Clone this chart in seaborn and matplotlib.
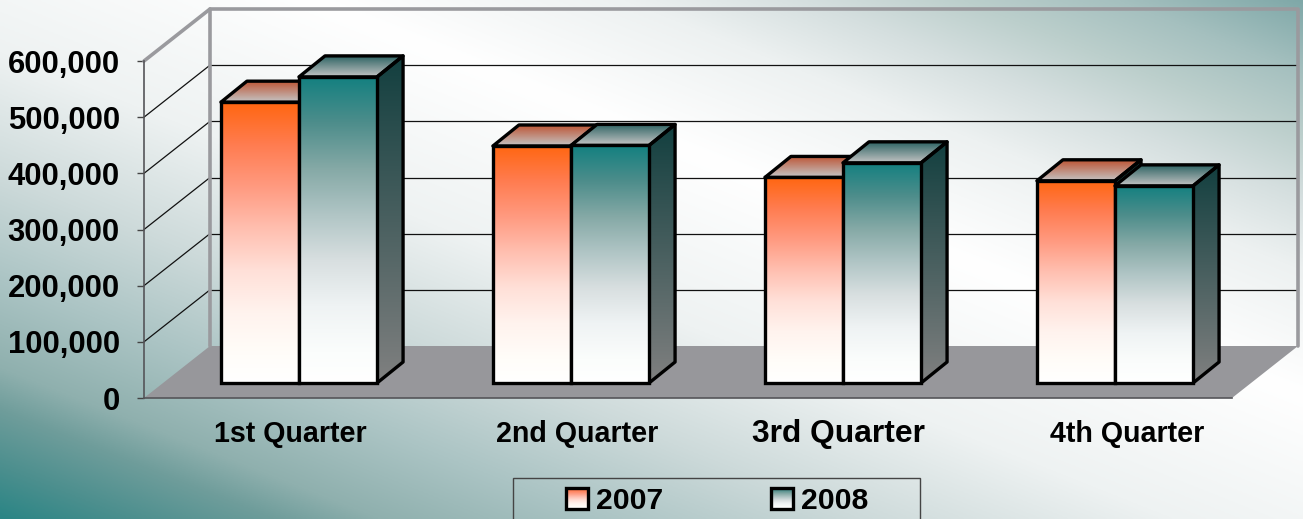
import numpy as np
import pandas as pd
import matplotlib
matplotlib.use("Agg")
import matplotlib.pyplot as plt
from matplotlib.colors import to_rgb
from matplotlib.patches import Polygon, Patch, Rectangle
from matplotlib.transforms import Affine2D, IdentityTransform
import seaborn as sns

quarters = ["1st Quarter", "2nd Quarter", "3rd Quarter", "4th Quarter"]
sales_2007 = [500000, 422000, 366000, 360000]
sales_2008 = [545000, 423000, 392000, 351000]
years = ["2007", "2008"]
y_ticks = [0, 100000, 200000, 300000, 400000, 500000, 600000]

W, H = 1303, 519
BAR_SHIFT = (19, 15)
BAR_DEPTH = (26, 21)
WALL_SHIFT = (66, 52)
label_sizes = [20.6, 20.6, 22.9, 20.6]
label_dx = [10, 25, 14, 31]

sns.set_theme(style="white")
plt.rcParams["font.family"] = ["Liberation Sans", "DejaVu Sans"]
plt.rcParams["font.weight"] = "bold"
plt.rcParams["text.color"] = "black"
plt.rcParams["ytick.labelcolor"] = "black"

df = pd.DataFrame({
    "quarter": quarters * 2,
    "sales": sales_2007 + sales_2008,
    "year": [years[0]] * 4 + [years[1]] * 4,
})

fig = plt.figure(figsize=(W / 100, H / 100), dpi=100)

# page background
bg_ax = fig.add_axes([0, 0, 1, 1], zorder=-1)
bg_ax.axis("off")
u, v = np.meshgrid(np.linspace(0, 1, 652), np.linspace(0, 1, 260))
s = (u + (1 - v)) / 2
stops = [0, .05, .105, .145, .23, .33, .45, .62, .74, .81, .87, .93, 1]
cols = ["#2a8585", "#4c8f8e", "#6f9d9b", "#8fb0ae", "#abc4c4", "#cddada", "#eef2f2",
        "#ffffff", "#edf1f1", "#d5dfdf", "#bccfcc", "#a5c0bf", "#7fa8a8"]
rgb = np.array([to_rgb(c) for c in cols])
bg = np.dstack([np.interp(s, stops, rgb[:, i]) for i in range(3)])
bg_ax.imshow(bg, aspect="auto", extent=(0, 1, 0, 1), origin="upper")

ax = fig.add_axes([144 / W, (H - 398) / H, 1088 / W, 337 / H])
ax.patch.set_visible(False)
sns.barplot(data=df, x="quarter", y="sales", hue="year", order=quarters,
            palette=["#ff6611", "#137f7f"], width=0.574, gap=0, saturation=1,
            legend=False, ax=ax)
ax.set_xlim(-0.5, 3.5)
ax.set_ylim(0, 600000)
ax.set_xlabel("")
ax.set_ylabel("")
ax.set_yticks(y_ticks)
ax.set_yticklabels([f"{t:,}" for t in y_ticks])
ax.set_xticks(range(4))
ax.set_xticklabels([""] * 4)
ax.tick_params(axis="y", length=5, width=1, color="#444444", pad=12.4, labelsize=22.3,
               left=True, labelcolor="black")
ax.tick_params(axis="x", length=0)
for name in ("top", "right"):
    ax.spines[name].set_visible(False)
for name in ("left", "bottom"):
    ax.spines[name].set_color("#555559")
    ax.spines[name].set_linewidth(1.2)

wall_tr = ax.transData + Affine2D().translate(*WALL_SHIFT)
bar_tr = ax.transData + Affine2D().translate(*BAR_SHIFT)


def to_px(x, y, shift=(0, 0)):
    p = ax.transData.transform((x, y))
    return p[0] + shift[0], p[1] + shift[1]


def gradient(pts, positions, colours, z):
    pts = np.asarray(pts)
    x0, y0 = pts.min(axis=0)
    x1, y1 = pts.max(axis=0)
    cs = np.array([to_rgb(c) for c in colours])
    t = np.linspace(0, 1, 256)
    c = np.stack([np.interp(t, positions, cs[:, i]) for i in range(3)], axis=1)[:, None, :]
    im = ax.imshow(c, aspect="auto", extent=(x0, x1, y0, y1), origin="upper",
                   transform=IdentityTransform(), zorder=z, interpolation="bilinear")
    im.set_clip_box(fig.bbox)
    im.set_clip_path(Polygon(pts, closed=True, transform=IdentityTransform()))
    ax.set_xlim(-0.5, 3.5)
    ax.set_ylim(0, 600000)


# floor
f0 = to_px(-0.5, 0)
f1 = to_px(3.5, 0)
ax.add_patch(Polygon([f0, f1, to_px(3.5, 0, WALL_SHIFT), to_px(-0.5, 0, WALL_SHIFT)],
                     closed=True, transform=IdentityTransform(), fc="#97979b", ec="none",
                     clip_on=False, zorder=1))

# walls and gridlines
for t in y_ticks[1:-1]:
    ax.plot([-0.5, 3.5], [t, t], color="#111111", lw=0.9, transform=wall_tr, clip_on=False, zorder=1.2)
    a, b = to_px(-0.5, t), to_px(-0.5, t, WALL_SHIFT)
    ax.plot([a[0], b[0]], [a[1], b[1]], color="#111111", lw=0.9,
            transform=IdentityTransform(), clip_on=False, zorder=1.2)
wall_kw = dict(color="#9a9a9e", lw=2.6, clip_on=False, zorder=1.3, solid_capstyle="round")
ymax = y_ticks[-1]
ax.plot([-0.5, -0.5, 3.5, 3.5], [0, ymax, ymax, 0], transform=wall_tr, **wall_kw)
a, b = to_px(-0.5, ymax), to_px(-0.5, ymax, WALL_SHIFT)
ax.plot([a[0], b[0]], [a[1], b[1]], transform=IdentityTransform(), **wall_kw)

# bars: seaborn's bars are the front faces; side and top faces follow from them
fade = [0, .15, .3, .45, .6, .75, .9, 1]
front_cols = [
    ["#ff6611", "#ff7c50", "#ff9a80", "#ffbfb0", "#ffe0d8", "#fff3ee", "#fffdf9", "#ffffff"],
    ["#138080", "#4d8d8b", "#85a9a6", "#b0c5c5", "#d8dfe0", "#eff3f4", "#fbfdfc", "#ffffff"],
]
top_cols = ["#bd5535", "#2f6464"]
side_cols = ["#123f3f", "#808080"]
top_front = "#c4c4c4"
EDGE = 2.4
n_q = len(quarters)
for q in range(n_q):
    for h, cont in enumerate(ax.containers[:2]):
        bar = cont.patches[q]
        z = 2 + q + h * 0.4
        x0, x1 = bar.get_x(), bar.get_x() + bar.get_width()
        val = bar.get_height()
        fl = to_px(x0, 0, BAR_SHIFT)
        fr = to_px(x1, 0, BAR_SHIFT)
        tl = to_px(x0, val, BAR_SHIFT)
        tr = to_px(x1, val, BAR_SHIFT)
        dep = lambda p: (p[0] + BAR_DEPTH[0], p[1] + BAR_DEPTH[1])
        side = [fr, tr, dep(tr), dep(fr)]
        top = [tl, tr, dep(tr), dep(tl)]
        gradient(side, [0, 1], side_cols, z)
        gradient(top, [0, 1], [top_cols[h], top_front], z + 0.01)
        for poly in (side, top):
            ax.add_patch(Polygon(poly, closed=True, transform=IdentityTransform(), fc="none",
                                 ec="black", lw=EDGE, joinstyle="round", clip_on=False, zorder=z + 0.02))
        gradient([fl, fr, tr, tl], fade, front_cols[h], z + 0.03)
        bar.set(facecolor="none", edgecolor="black", linewidth=EDGE, clip_on=False,
                transform=bar_tr, zorder=z + 0.04, joinstyle="miter")

# category labels
for i, lab in enumerate(quarters):
    ax.annotate(lab, xy=(i, 0), xycoords=("data", "axes fraction"),
                xytext=(label_dx[i] * 0.72, -36 * 0.72), textcoords="offset points",
                ha="center", va="center", fontsize=label_sizes[i], color="black",
                annotation_clip=False)

# legend
fig.add_artist(Rectangle((513 / W, -0.05), 407 / W, (H - 478) / H + 0.05, transform=fig.transFigure,
                         fc="none", ec="#444444", lw=1))
handles = [Patch(fc="none", ec="black", lw=EDGE, label=y) for y in years]
leg = fig.legend(handles=handles, ncol=2, frameon=False, loc="center",
                 bbox_to_anchor=(717.5 / W, (H - 501) / H), fontsize=21.7,
                 handlelength=0.73, handleheight=0.73, handletextpad=0.27,
                 columnspacing=3.57, borderpad=0, labelcolor="black")
fig.canvas.draw()
for h, handle in enumerate(leg.legend_handles):
    e = handle.get_window_extent()
    gradient([(e.x0, e.y0), (e.x1, e.y0), (e.x1, e.y1), (e.x0, e.y1)], fade, front_cols[h], 6)

fig.savefig("out.png", dpi=100)
